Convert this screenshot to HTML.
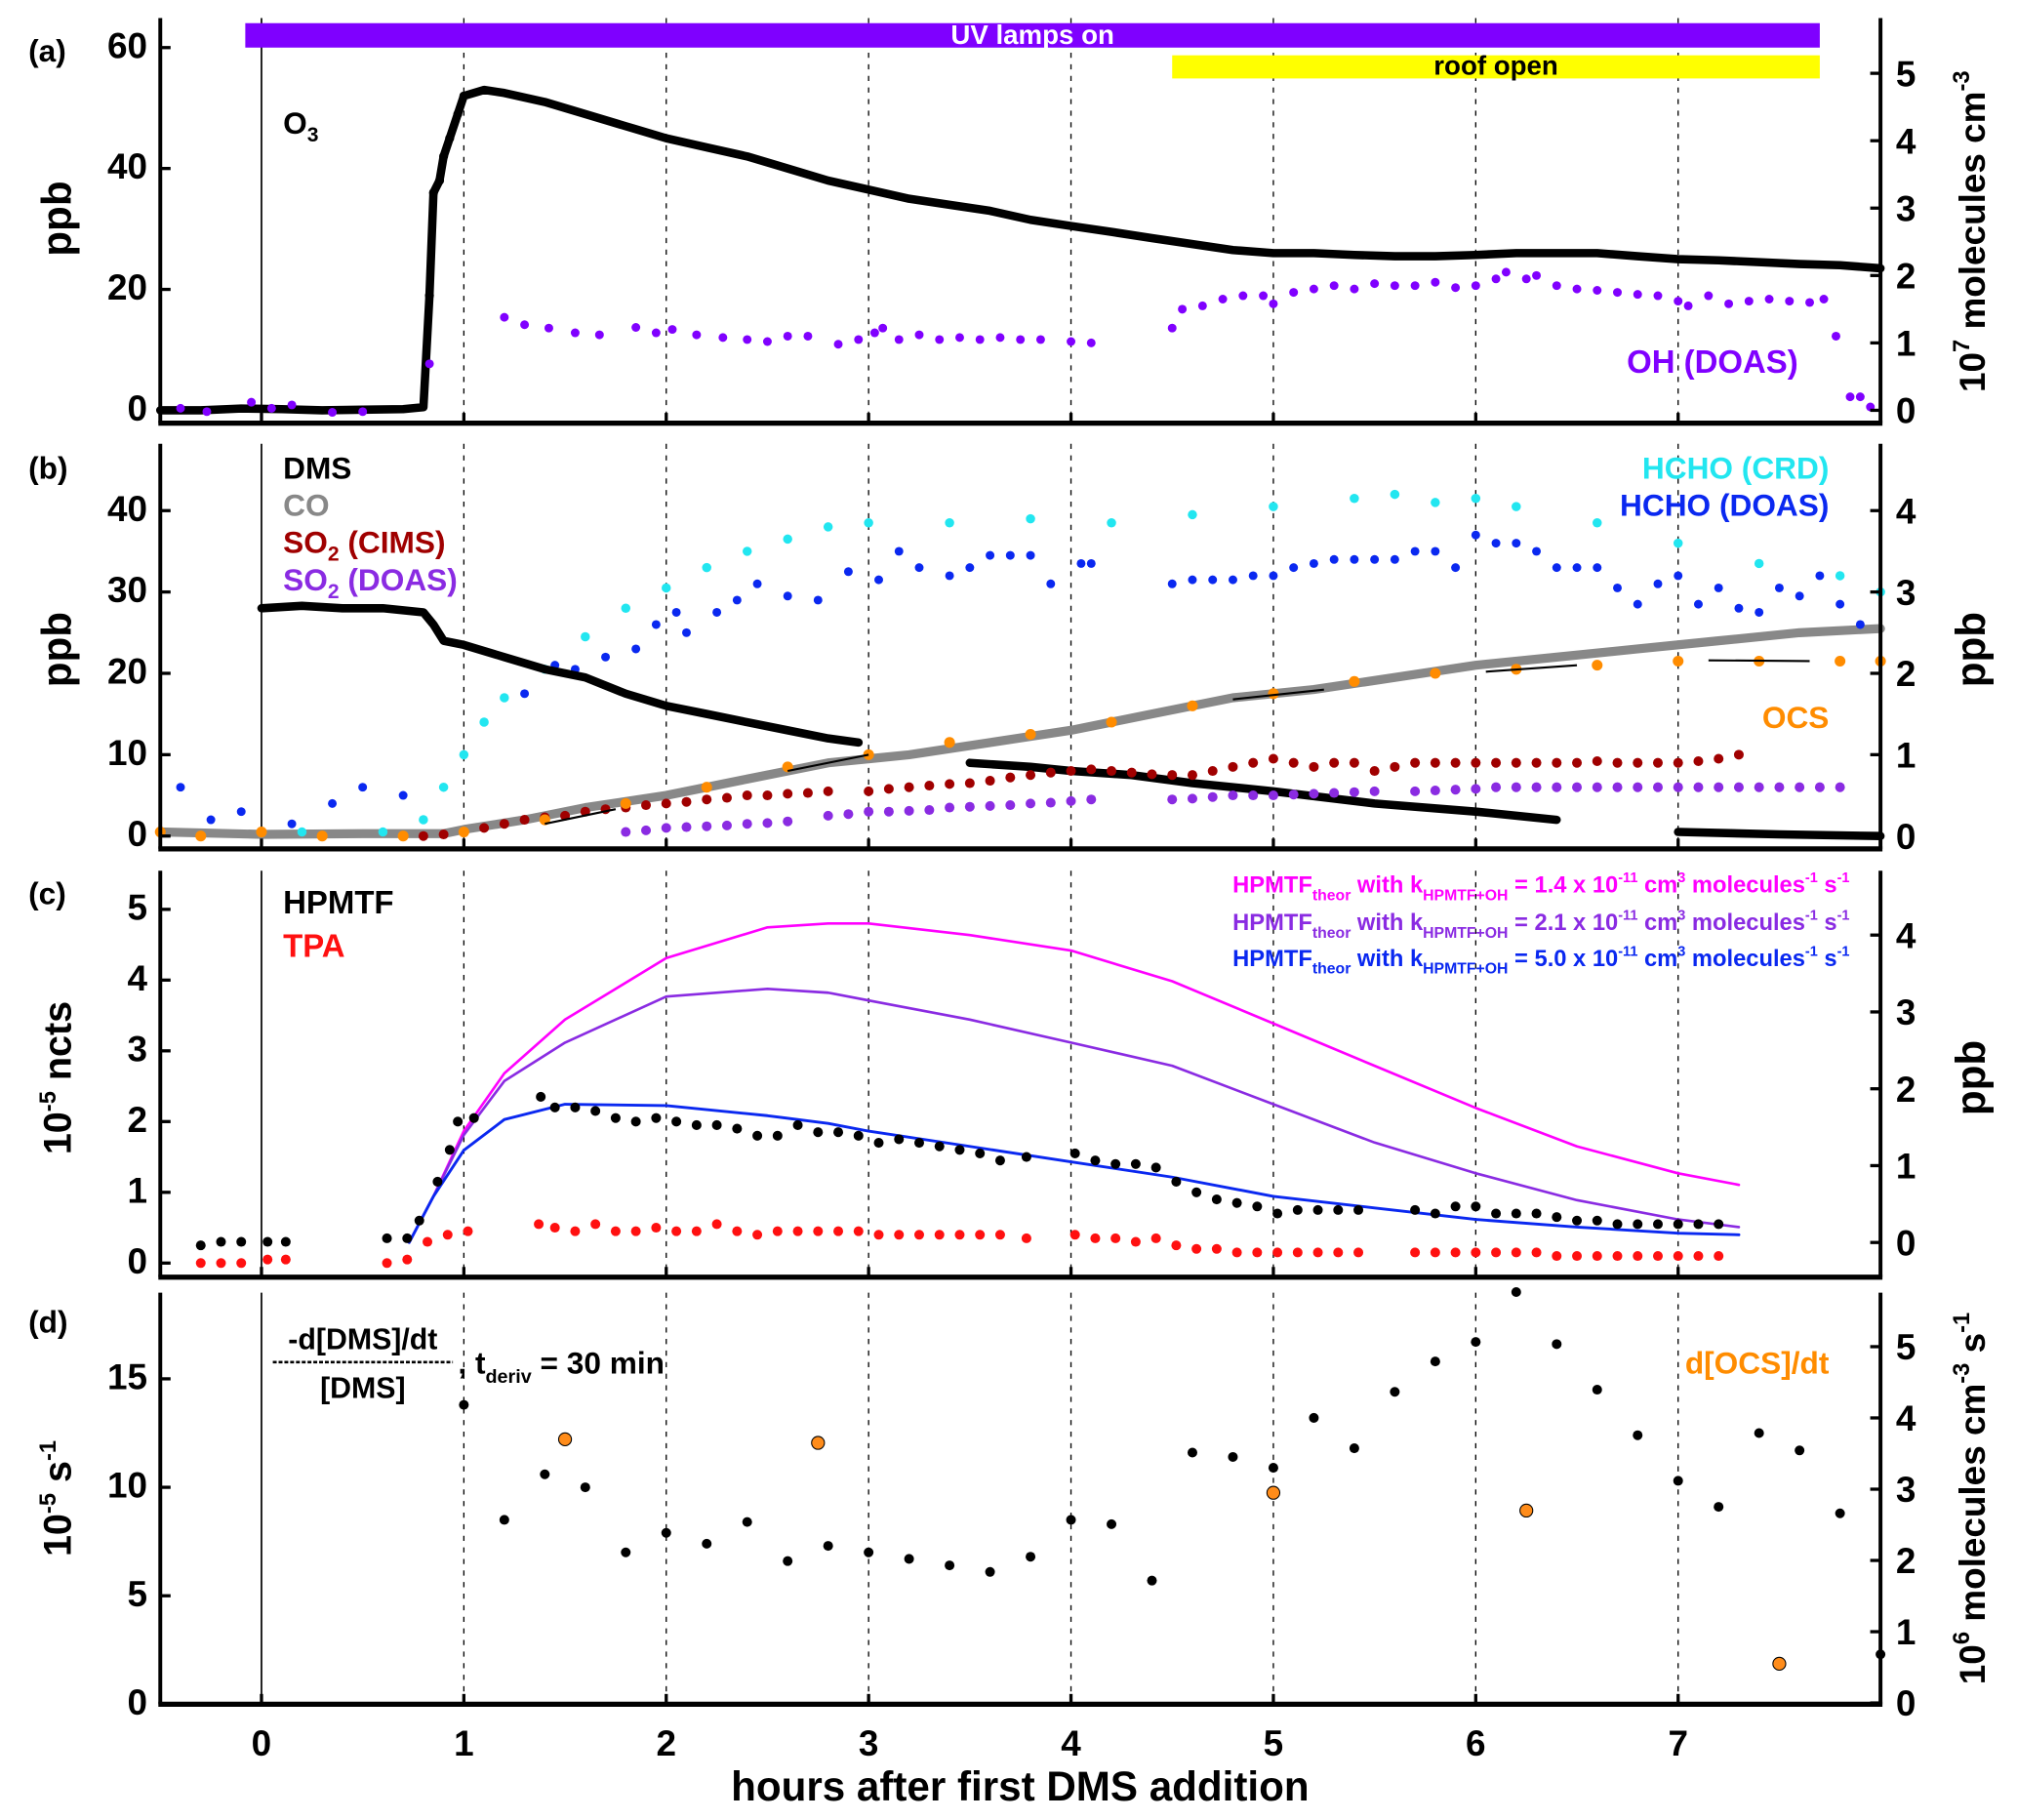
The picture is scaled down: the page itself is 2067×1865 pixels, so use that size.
<!DOCTYPE html>
<html><head><meta charset="utf-8"><style>
html,body{margin:0;padding:0;background:#fff}
svg{display:block}
text{font-family:"Liberation Sans Narrow","Liberation Sans",sans-serif;font-weight:bold}
</style></head><body>
<svg id="fig" width="2067" height="1865" viewBox="0 0 1568 1415" xmlns="http://www.w3.org/2000/svg"></svg>
<script>
// ---------- data ----------
const hoursTicks=[0,1,2,3,4,5,6,7];
// panel a
const o3Hours=[-0.5,-0.3,-0.1,0.1,0.3,0.5,0.7,0.8,0.83,0.85,0.88,0.9,0.93,0.97,1.0,1.1,1.2,1.4,1.6,1.8,2.0,2.2,2.4,2.6,2.8,3.0,3.2,3.4,3.6,3.8,4.0,4.2,4.4,4.6,4.8,5.0,5.2,5.4,5.6,5.8,6.0,6.2,6.4,6.6,6.8,7.0,7.2,7.4,7.6,7.8,8.0];
const o3Vals=[0,0,0.3,0.2,0,0.1,0.2,0.5,19,36,38,42,45,49,52,53,52.5,51,49,47,45,43.5,42,40,38,36.5,35,34,33,31.5,30.5,29.5,28.5,27.5,26.5,26,26,25.7,25.5,25.5,25.7,26,26,26,25.5,25,24.8,24.5,24.2,24,23.5];
const ohHours=[-0.4,-0.27,-0.05,0.05,0.15,0.35,0.5,0.83,1.2,1.3,1.42,1.55,1.67,1.85,1.95,2.03,2.15,2.28,2.4,2.5,2.6,2.7,2.85,2.95,3.03,3.07,3.15,3.25,3.35,3.45,3.55,3.65,3.75,3.85,4.0,4.1,4.5,4.55,4.65,4.75,4.85,4.95,5.0,5.1,5.2,5.3,5.4,5.5,5.6,5.7,5.8,5.9,6.0,6.1,6.15,6.25,6.3,6.4,6.5,6.6,6.7,6.8,6.9,7.0,7.05,7.15,7.25,7.35,7.45,7.55,7.65,7.72,7.78,7.85,7.9,7.95];
const ohVals=[0.03,-0.02,0.12,0.03,0.08,-0.03,-0.02,0.69,1.38,1.27,1.22,1.15,1.12,1.23,1.15,1.2,1.12,1.08,1.05,1.02,1.1,1.1,0.98,1.05,1.15,1.22,1.05,1.12,1.05,1.08,1.05,1.08,1.05,1.05,1.02,1.0,1.22,1.5,1.55,1.65,1.7,1.7,1.58,1.75,1.8,1.85,1.8,1.88,1.85,1.85,1.9,1.82,1.85,1.95,2.05,1.95,2.0,1.85,1.8,1.78,1.75,1.72,1.7,1.62,1.55,1.7,1.58,1.62,1.65,1.62,1.6,1.65,1.1,0.2,0.2,0.05];
// panel b
const dmsHours=[0,0.2,0.4,0.6,0.8,0.85,0.9,1.0,1.2,1.4,1.6,1.8,2.0,2.2,2.4,2.6,2.8,2.95,null,3.5,3.8,4.0,4.3,4.6,5.0,5.5,6.0,6.4,null,7.0,7.5,8.0];
const dmsVals=[28,28.3,28,28,27.5,26,24,23.5,22,20.5,19.5,17.5,16,15,14,13,12,11.5,null,9,8.5,8,7.5,6.5,5.5,4,3,2,null,0.5,0.2,0];
const coHours=[-0.5,0,0.5,0.9,1.0,1.3,1.6,2.0,2.4,2.8,3.2,3.6,4.0,4.4,4.8,5.2,5.6,6.0,6.4,6.8,7.2,7.6,8.0];
const coVals=[0.5,0.2,0.3,0.3,0.8,2,3.5,5,7,9,10,11.5,13,15,17,18,19.5,21,22,23,24,25,25.5];
const ocsHours=[-0.5,-0.3,0,0.3,0.7,1.0,1.4,1.8,2.2,2.6,3.0,3.4,3.8,4.2,4.6,5.0,5.4,5.8,6.2,6.6,7.0,7.4,7.8,8.0];
const ocsVals=[0.05,0,0.05,0,0,0.05,0.2,0.4,0.6,0.85,1.0,1.15,1.25,1.4,1.6,1.75,1.9,2.0,2.05,2.1,2.15,2.15,2.15,2.15];
const hchoCrdHours=[-0.5,0.2,0.6,0.8,0.9,1.0,1.1,1.2,1.4,1.6,1.8,2.0,2.2,2.4,2.6,2.8,3.0,3.4,3.8,4.2,4.6,5.0,5.4,5.6,5.8,6.0,6.2,6.6,7.0,7.4,7.8,8.0];
const hchoCrdVals=[0.05,0.05,0.05,0.2,0.6,1.0,1.4,1.7,2.05,2.45,2.8,3.05,3.3,3.5,3.65,3.8,3.85,3.85,3.9,3.85,3.95,4.05,4.15,4.2,4.1,4.15,4.05,3.85,3.6,3.35,3.2,3.0];
const hchoDoasHours=[-0.4,-0.25,-0.1,0.15,0.35,0.5,0.7,1.3,1.45,1.55,1.7,1.85,1.95,2.05,2.1,2.25,2.35,2.45,2.6,2.75,2.9,3.05,3.15,3.25,3.4,3.5,3.6,3.7,3.8,3.9,4.05,4.1,4.5,4.6,4.7,4.8,4.9,5.0,5.1,5.2,5.3,5.4,5.5,5.6,5.7,5.8,5.9,6.0,6.1,6.2,6.3,6.4,6.5,6.6,6.7,6.8,6.9,7.0,7.1,7.2,7.3,7.4,7.5,7.6,7.7,7.8,7.9];
const hchoDoasVals=[0.6,0.2,0.3,0.15,0.4,0.6,0.5,1.75,2.1,2.05,2.2,2.3,2.6,2.75,2.5,2.75,2.9,3.1,2.95,2.9,3.25,3.15,3.5,3.3,3.2,3.3,3.45,3.45,3.45,3.1,3.35,3.35,3.1,3.15,3.15,3.15,3.2,3.2,3.3,3.35,3.4,3.4,3.4,3.4,3.5,3.5,3.3,3.7,3.6,3.6,3.5,3.3,3.3,3.3,3.05,2.85,3.1,3.2,2.85,3.05,2.8,2.75,3.05,2.95,3.2,2.85,2.6];
const so2CimsHours=[0.8,0.9,1.0,1.1,1.2,1.3,1.4,1.5,1.6,1.7,1.8,1.9,2.0,2.1,2.2,2.3,2.4,2.5,2.6,2.7,2.8,3.0,3.1,3.2,3.3,3.4,3.5,3.6,3.7,3.8,3.9,4.0,4.1,4.2,4.3,4.4,4.5,4.6,4.7,4.8,4.9,5.0,5.1,5.2,5.3,5.4,5.5,5.6,5.7,5.8,5.9,6.0,6.1,6.2,6.3,6.4,6.5,6.6,6.7,6.8,6.9,7.0,7.1,7.2,7.3];
const so2CimsVals=[0,0.2,0.5,1,1.5,2,2.3,2.5,3,3.3,3.5,3.8,4,4.2,4.5,4.7,5,5,5.2,5.3,5.5,5.5,5.8,6,6.2,6.4,6.5,6.8,7.2,7.5,7.8,8,8.2,8,7.8,7.6,7.5,7.5,8,8.5,9,9.5,9,8.5,9,9,8,8.5,9,9,9,9,9,9,9,9,9,9.2,9,9,9,9,9.2,9.5,10];
const so2DoasHours=[1.8,1.9,2.0,2.1,2.2,2.3,2.4,2.5,2.6,2.8,2.9,3.0,3.1,3.2,3.3,3.4,3.5,3.6,3.7,3.8,3.9,4.0,4.1,4.5,4.6,4.7,4.8,4.9,5.0,5.1,5.2,5.3,5.4,5.5,5.7,5.8,5.9,6.0,6.1,6.2,6.3,6.4,6.5,6.6,6.7,6.8,6.9,7.0,7.1,7.2,7.3,7.4,7.5,7.6,7.7,7.8];
const so2DoasVals=[0.5,0.7,1,1.1,1.2,1.3,1.5,1.6,1.8,2.5,2.7,3,3,3.1,3.2,3.5,3.6,3.7,3.8,4,4.1,4.3,4.5,4.5,4.6,4.8,5,5,5,5.1,5.2,5.3,5.4,5.5,5.5,5.6,5.7,5.8,6,6,6,6,6,6,6,6,6,6,6,6,6,6,6,6,6,6];
const fitStart=[1.4,2.6,4.8,6.05,7.15];
const fitEnd=[1.75,3.0,5.25,6.5,7.65];
const fitV0=[1.5,8,16.8,20.2,21.6];
const fitV1=[3.3,10,18,21,21.5];
// panel c
const hpmtfHours=[-0.3,-0.2,-0.1,0.03,0.12,0.62,0.72,0.78,0.87,0.93,0.97,1.05,1.38,1.45,1.55,1.65,1.75,1.85,1.95,2.05,2.15,2.25,2.35,2.45,2.55,2.65,2.75,2.85,2.95,3.05,3.15,3.25,3.35,3.45,3.55,3.65,3.78,4.02,4.12,4.22,4.32,4.42,4.52,4.62,4.72,4.82,4.92,5.02,5.12,5.22,5.32,5.42,5.7,5.8,5.9,6.0,6.1,6.2,6.3,6.4,6.5,6.6,6.7,6.8,6.9,7.0,7.1,7.2];
const hpmtfVals=[0.25,0.3,0.3,0.3,0.3,0.35,0.35,0.6,1.15,1.6,2.0,2.05,2.35,2.2,2.2,2.15,2.05,2.0,2.05,2.0,1.95,1.95,1.9,1.8,1.8,1.95,1.85,1.85,1.8,1.7,1.75,1.7,1.65,1.6,1.55,1.45,1.5,1.55,1.45,1.4,1.4,1.35,1.15,1.0,0.9,0.85,0.8,0.7,0.75,0.75,0.75,0.75,0.75,0.7,0.8,0.8,0.7,0.7,0.7,0.65,0.6,0.6,0.55,0.55,0.55,0.55,0.55,0.55];
const tpaHours=[-0.3,-0.2,-0.1,0.03,0.12,0.62,0.72,0.82,0.92,1.02,1.37,1.45,1.55,1.65,1.75,1.85,1.95,2.05,2.15,2.25,2.35,2.45,2.55,2.65,2.75,2.85,2.95,3.05,3.15,3.25,3.35,3.45,3.55,3.65,3.78,4.02,4.12,4.22,4.32,4.42,4.52,4.62,4.72,4.82,4.92,5.02,5.12,5.22,5.32,5.42,5.7,5.8,5.9,6.0,6.1,6.2,6.3,6.4,6.5,6.6,6.7,6.8,6.9,7.0,7.1,7.2];
const tpaVals=[0,0,0,0.05,0.05,0,0.05,0.3,0.4,0.45,0.55,0.5,0.45,0.55,0.45,0.45,0.5,0.45,0.45,0.55,0.45,0.4,0.45,0.45,0.45,0.45,0.45,0.4,0.4,0.4,0.4,0.4,0.4,0.4,0.35,0.4,0.35,0.35,0.3,0.35,0.25,0.2,0.2,0.15,0.15,0.15,0.15,0.15,0.15,0.15,0.15,0.15,0.15,0.15,0.15,0.15,0.15,0.1,0.1,0.1,0.1,0.1,0.1,0.1,0.1,0.1];
const modelHours=[0.73,0.85,1.0,1.2,1.5,2.0,2.5,2.8,3.0,3.5,4.0,4.5,5.0,5.5,6.0,6.5,7.0,7.3];
const model14=[0,0.6,1.45,2.2,2.9,3.7,4.1,4.15,4.15,4.0,3.8,3.4,2.85,2.3,1.75,1.25,0.9,0.75];
const model21=[0,0.6,1.4,2.1,2.6,3.2,3.3,3.25,3.15,2.9,2.6,2.3,1.8,1.3,0.9,0.55,0.3,0.2];
const model50=[0,0.6,1.2,1.6,1.8,1.78,1.65,1.55,1.45,1.25,1.05,0.85,0.6,0.45,0.3,0.2,0.12,0.1];
// panel d
const lossHours=[1.0,1.2,1.4,1.6,1.8,2.0,2.2,2.4,2.6,2.8,3.0,3.2,3.4,3.6,3.8,4.0,4.2,4.4,4.6,4.8,5.0,5.2,5.4,5.6,5.8,6.0,6.2,6.4,6.6,6.8,7.0,7.2,7.4,7.6,7.8,8.0];
const lossVals=[13.8,8.5,10.6,10.0,7.0,7.9,7.4,8.4,6.6,7.3,7.0,6.7,6.4,6.1,6.8,8.5,8.3,5.7,11.6,11.4,10.9,13.2,11.8,14.4,15.8,16.7,19.0,16.6,14.5,12.4,10.3,9.1,12.5,11.7,8.8,2.3];
const docsHours=[1.5,2.75,5.0,6.25,7.5];
const docsVals=[3.7,3.65,2.95,2.7,0.55];

// ---------- helpers ----------
const NS='http://www.w3.org/2000/svg';
const svg=document.getElementById('fig');
const X0=124.5,X1=1462;
const xs=h=>X0+(h+0.5)*(X1-X0)/8.5;
function el(tag,attrs,parent){const e=document.createElementNS(NS,tag);for(const k in attrs)e.setAttribute(k,attrs[k]);(parent||svg).appendChild(e);return e;}
function txt(x,y,s,size,fill,anchor,parent){const t=el('text',{x:x,y:y,'font-size':size,fill:fill||'#000','text-anchor':anchor||'start'},parent);t.innerHTML=s;return t;}
function lin(v0,y0,v1,y1){return v=>y0+(v-v0)*(y1-y0)/(v1-v0);}
function dots(g,hs,vs,ys,r,fill,stroke){for(let i=0;i<hs.length;i++){if(hs[i]===null)continue;const c=el('circle',{cx:xs(hs[i]),cy:ys(vs[i]),r:r,fill:fill},g);if(stroke){c.setAttribute('stroke',stroke);c.setAttribute('stroke-width',0.8);}

}}
function poly(g,hs,vs,ys,color,w){let d='',pen=false;for(let i=0;i<hs.length;i++){if(hs[i]===null){pen=false;continue;}d+=(pen?'L':'M')+xs(hs[i]).toFixed(1)+','+ys(vs[i]).toFixed(1);pen=true;}return el('path',{d:d,fill:'none',stroke:color,'stroke-width':w,'stroke-linejoin':'round','stroke-linecap':'round'},g);}
function panel(name,top,bot){const g=el('g',{});
 for(const h of hoursTicks){const l=el('line',{x1:xs(h),x2:xs(h),y1:top,y2:bot,stroke:'#000','stroke-width':h===0?1.3:1,'stroke-dasharray':h===0?'none':'4,5'},g);}
 return g;}
function frame(g,top,bot,leftTicks,leftY,rightTicks,rightY){
 el('line',{x1:X0,x2:X0,y1:top,y2:bot,stroke:'#000','stroke-width':3},g);
 el('line',{x1:X1,x2:X1,y1:top,y2:bot,stroke:'#000','stroke-width':3},g);
 el('line',{x1:X0-1.5,x2:X1+1.5,y1:bot,y2:bot,stroke:'#000','stroke-width':4},g);
 for(const t of leftTicks){const y=leftY(t);el('line',{x1:X0,x2:X0+8,y1:y,y2:y,stroke:'#000','stroke-width':2.5},g);const tt=txt(X0-10,y+8,String(t),28,'#000','end',g);}
 for(const t of rightTicks){const y=rightY(t);el('line',{x1:X1-8,x2:X1,y1:y,y2:y,stroke:'#000','stroke-width':2.5},g);const tt=txt(X1+12,y+10,String(t),28,'#000','start',g);}
 for(const h of hoursTicks){el('line',{x1:xs(h),x2:xs(h),y1:bot-8,y2:bot,stroke:'#000','stroke-width':2.5},g);}
}
function vlabel(x,y,s,size,name){const t=el('text',{x:0,y:0,'font-size':size,fill:'#000','text-anchor':'middle',transform:'translate('+x+','+y+') rotate(-90)'});t.innerHTML=s;return t;}

// ---------- panel a ----------
{const top=14,bot=329;const g=panel('panel-a',top,bot);
 const yl=lin(0,319,60,37), yr=lin(0,319,5,57);
 const b1=el('rect',{x:xs(-0.08),y:18,width:xs(7.7)-xs(-0.08),height:19,fill:'#7f00ff'},g);
 txt((xs(-0.08)+xs(7.7))/2,34,'UV lamps on',21,'#fff','middle',g);
 const b2=el('rect',{x:xs(4.5),y:43,width:xs(7.7)-xs(4.5),height:18,fill:'#ffff00'},g);
 txt((xs(4.5)+xs(7.7))/2,58,'roof open',21,'#000','middle',g);
 poly(g,o3Hours,o3Vals,yl,'#000',6.5);
 dots(g,o3Hours.slice(8,15),o3Vals.slice(8,15),yl,3.5,'#000');
 dots(g,ohHours,ohVals,yr,3.4,'#8000ff');
 frame(g,top,bot,[0,20,40,60],yl,[0,1,2,3,4,5],yr);
 txt(220,104,'O<tspan font-size="16" dy="6">3</tspan>',24,'#000','start',g);
 txt(1398,290,'OH (DOAS)',25,'#8000ff','end',g);
 txt(22,48,'(a)',24,'#000','start',g);
 vlabel(55,170,'ppb',32,'y-axis-title-a');
 vlabel(1543,180,'10<tspan font-size="18" dy="-12">7</tspan><tspan dy="12"> molecules cm</tspan><tspan font-size="18" dy="-12">-3</tspan>',28,'y2-axis-title-a');
}
// ---------- panel b ----------
{const top=345,bot=660;const g=panel('panel-b',top,bot);
 const yl=lin(0,650,40,397), yr=lin(0,650,4,397);
 poly(g,coHours,coVals,yl,'#888',7);
 dots(g,hchoCrdHours,hchoCrdVals,yr,3.6,'#22e6f0');
 dots(g,hchoDoasHours,hchoDoasVals,yr,3.4,'#0a28f0');
 poly(g,dmsHours,dmsVals,yl,'#000',6.5);
 dots(g,so2CimsHours,so2CimsVals,yl,3.8,'#a00000');
 dots(g,so2DoasHours,so2DoasVals,yl,3.8,'#8a2be2');
 dots(g,ocsHours,ocsVals,yr,4.2,'#ff8c00');
 for(let i=0;i<fitStart.length;i++){const l=el('line',{x1:xs(fitStart[i]),x2:xs(fitEnd[i]),y1:yl(fitV0[i]),y2:yl(fitV1[i]),stroke:'#000','stroke-width':1.6},g);}
 frame(g,top,bot,[0,10,20,30,40],yl,[0,1,2,3,4],yr);
 txt(22,372,'(b)',24,'#000','start',g);
 txt(220,372,'DMS',24,'#000','start',g);
 txt(220,401,'CO',24,'#888','start',g);
 txt(220,430,'SO<tspan font-size="16" dy="6">2</tspan><tspan dy="-6"> (CIMS)</tspan>',24,'#a00000','start',g);
 txt(220,459,'SO<tspan font-size="16" dy="6">2</tspan><tspan dy="-6"> (DOAS)</tspan>',24,'#8a2be2','start',g);
 txt(1422,372,'HCHO (CRD)',24,'#22e6f0','end',g);
 txt(1422,401,'HCHO (DOAS)',24,'#0a28f0','end',g);
 txt(1422,566,'OCS',24,'#ff8c00','end',g);
 vlabel(55,505,'ppb',32,'y-axis-title-b');
 vlabel(1543,505,'ppb',32,'y2-axis-title-b');
}
// ---------- panel c ----------
{const top=677,bot=993;const g=panel('panel-c',top,bot);
 const yl=lin(0,982,5,707), yr=lin(0,966,4,727);
 poly(g,modelHours,model14,yr,'#ff00ff',2);
 poly(g,modelHours,model21,yr,'#8a2be2',2);
 poly(g,modelHours,model50,yr,'#0a28f0',2.2);
 dots(g,hpmtfHours,hpmtfVals,yl,3.8,'#000');
 dots(g,tpaHours,tpaVals,yl,3.8,'#ff1010');
 frame(g,top,bot,[0,1,2,3,4,5],yl,[0,1,2,3,4],yr);
 txt(22,703,'(c)',24,'#000','start',g);
 txt(220,710,'HPMTF',25,'#000','start',g);
 txt(220,744,'TPA',25,'#ff1010','start',g);
 const L=[['1.4','#ff00ff',694],['2.1','#8a2be2',723],['5.0','#0a28f0',751]];
 for(const [k,c,y] of L){const t=txt(1438,y,'HPMTF<tspan font-size="12" dy="6">theor</tspan><tspan dy="-6"> with k</tspan><tspan font-size="12" dy="6">HPMTF+OH</tspan><tspan dy="-6"> = '+k+' x 10</tspan><tspan font-size="11" dy="-8">-11</tspan><tspan dy="8"> cm</tspan><tspan font-size="11" dy="-8">3</tspan><tspan dy="8"> molecules</tspan><tspan font-size="11" dy="-8">-1</tspan><tspan dy="8"> s</tspan><tspan font-size="11" dy="-8">-1</tspan>',18,c,'end',g);}
 vlabel(55,838,'10<tspan font-size="18" dy="-12">-5</tspan><tspan dy="12"> ncts</tspan>',30,'y-axis-title-c');
 vlabel(1543,838,'ppb',32,'y2-axis-title-c');
}
// ---------- panel d ----------
{const top=1005,bot=1325;const g=panel('panel-d',top,bot);
 const yl=lin(0,1325,15,1072), yr=lin(0,1324,5,1047);
 dots(g,lossHours,lossVals,yl,3.8,'#000');
 dots(g,docsHours,docsVals,yr,5,'#ff8c1a','#000');
 frame(g,top,bot,[0,5,10,15],yl,[0,1,2,3,4,5],yr);
 txt(22,1036,'(d)',24,'#000','start',g);
 txt(282,1049,'-d[DMS]/dt',23,'#000','middle',g);
 el('line',{x1:212,x2:352,y1:1059,y2:1059,stroke:'#000','stroke-width':2,'stroke-dasharray':'3,1.5'},g);
 txt(282,1087,'[DMS]',23,'#000','middle',g);
 txt(356,1068,', t<tspan font-size="15" dy="7">deriv</tspan><tspan dy="-7"> = 30 min</tspan>',24,'#000','start',g);
 txt(1422,1068,'d[OCS]/dt',24,'#ff8c00','end',g);
 vlabel(55,1165,'10<tspan font-size="18" dy="-12">-5</tspan><tspan dy="12"> s</tspan><tspan font-size="18" dy="-12">-1</tspan>',30,'y-axis-title-d');
 vlabel(1543,1165,'10<tspan font-size="18" dy="-12">6</tspan><tspan dy="12"> molecules cm</tspan><tspan font-size="18" dy="-12">-3</tspan><tspan dy="12"> s</tspan><tspan font-size="18" dy="-12">-1</tspan>',28,'y2-axis-title-d');
 for(const h of hoursTicks){const t=txt(xs(h),1365,String(h),28,'#000','middle');}
 const xt=txt(793,1400,'hours after first DMS addition',32,'#000','middle');
}
</script>
</body></html>
